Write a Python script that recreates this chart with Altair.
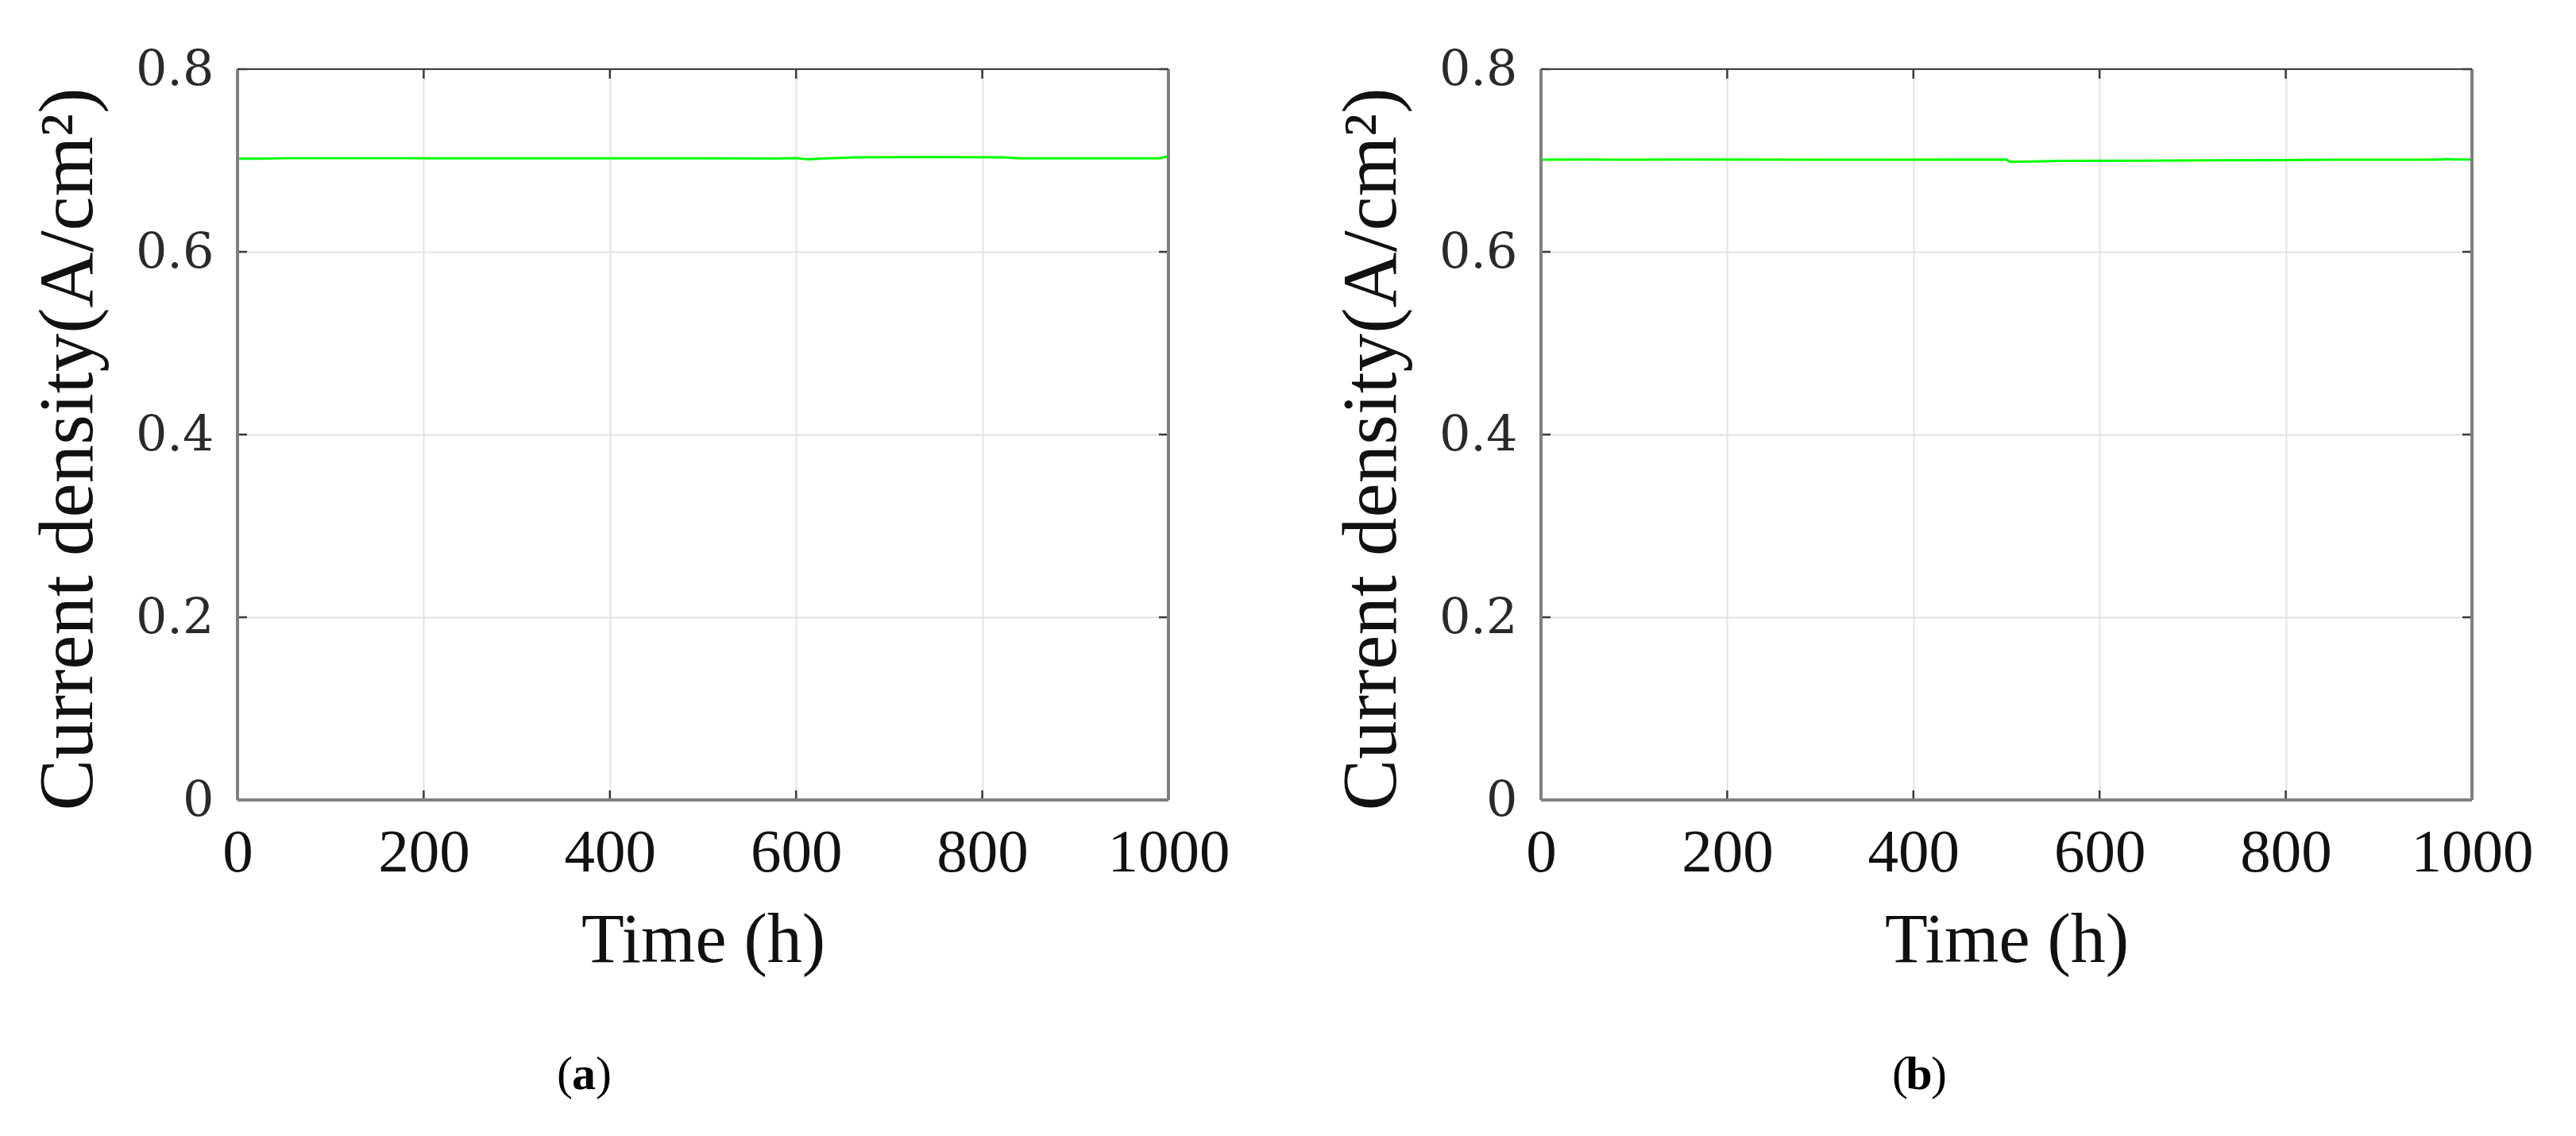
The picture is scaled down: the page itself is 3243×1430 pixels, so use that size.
import altair as alt
import pandas as pd

# ---- data ----
hours_a = [0, 25, 55, 200, 400, 500, 580, 600, 613, 630, 664, 740, 822, 840, 900, 990, 1000]
current_a = [0.7020, 0.7020, 0.7025, 0.7025, 0.7025, 0.7025, 0.7022, 0.7025, 0.7012, 0.7022,
             0.7035, 0.7036, 0.7035, 0.7025, 0.7025, 0.7025, 0.7045]

hours_b = [0, 50, 100, 150, 370, 500, 504, 530, 557, 650, 800, 850, 970, 972, 980, 1000]
current_b = [0.7008, 0.7010, 0.7008, 0.7010, 0.7008, 0.7010, 0.6985, 0.6990, 0.6995, 0.6998,
             0.7004, 0.7008, 0.7010, 0.7018, 0.7010, 0.7010]

x_ticks = [0, 200, 400, 600, 800, 1000]
y_ticks = [0, 0.2, 0.4, 0.6, 0.8]
panel_letters = ["a", "b"]

W, H = 1172, 920
SERIF = "Liberation Serif"
TICK = 12

xscale = alt.Scale(domain=[0, 1000], nice=False, zero=False)
yscale = alt.Scale(domain=[0, 0.8], nice=False)

xaxis = alt.Axis(values=x_ticks, title="Time (h)", grid=True, gridColor="#e3e3e3",
                 gridWidth=2, ticks=False, domain=False, labelFont=SERIF,
                 labelFontSize=77, labelColor="#111", labelPadding=89,
                 labelBaseline="alphabetic", labelFlush=False,
                 labelExpr="format(datum.value, 'd')",
                 titleFont=SERIF, titleFontSize=88, titleFontWeight="normal",
                 titleColor="#111", titleBaseline="alphabetic",
                 titleY=203, titleX=W / 2)
yaxis = alt.Axis(values=y_ticks, title="Current density(A/cm²)", grid=True,
                 gridColor="#e3e3e3", gridWidth=2, ticks=False, domain=False,
                 labelFont="DejaVu Serif", labelFontSize=62, labelColor="#2a2a2a",
                 labelPadding=30, labelFlush=False,
                 labelExpr="datum.value == 0 ? '0' : format(datum.value, '.1f')",
                 titleFont=SERIF, titleFontSize=97, titleFontWeight="normal",
                 titleColor="#111", titleBaseline="alphabetic", titleAngle=270,
                 titleX=-184, titleY=478)


def panel(hours, current, letter, label_shift):
    df = pd.DataFrame({"hours": hours, "current": current})
    line = alt.Chart(df).mark_line(color="#00ff00", strokeWidth=3).encode(
        x=alt.X("hours:Q", scale=xscale, axis=xaxis),
        y=alt.Y("current:Q", scale=yscale, axis=yaxis),
    )
    tx = pd.DataFrame({"hours": x_ticks})
    ty = pd.DataFrame({"current": y_ticks})
    rule_style = dict(color="#3a3a3a", strokeWidth=2.5)
    bottom = alt.Chart(tx).mark_rule(**rule_style).encode(
        x=alt.X("hours:Q", scale=xscale, axis=xaxis), y=alt.value(H), y2=alt.value(H - TICK))
    top = alt.Chart(tx).mark_rule(**rule_style).encode(
        x=alt.X("hours:Q", scale=xscale, axis=xaxis), y=alt.value(0), y2=alt.value(TICK))
    left = alt.Chart(ty).mark_rule(**rule_style).encode(
        y=alt.Y("current:Q", scale=yscale, axis=yaxis), x=alt.value(0), x2=alt.value(TICK))
    right = alt.Chart(ty).mark_rule(**rule_style).encode(
        y=alt.Y("current:Q", scale=yscale, axis=yaxis), x=alt.value(W), x2=alt.value(W - TICK))
    topline = alt.Chart(tx).mark_rule(color="#3c3c3c", strokeWidth=2).encode(
        x=alt.value(0), x2=alt.value(W), y=alt.value(0))
    frame_l = alt.Chart(tx).mark_rule(color="#808080", strokeWidth=4).encode(
        x=alt.value(0), y=alt.value(0), y2=alt.value(H))
    frame_r = alt.Chart(tx).mark_rule(color="#808080", strokeWidth=4).encode(
        x=alt.value(W), y=alt.value(0), y2=alt.value(H))
    frame_b = alt.Chart(tx).mark_rule(color="#808080", strokeWidth=4).encode(
        x=alt.value(0), x2=alt.value(W), y=alt.value(H))

    cx = W / 2 + label_shift
    cy = H + 364
    lab = pd.DataFrame({"o": ["("], "l": [letter], "c": [")"]})
    lp = alt.Chart(lab).mark_text(font=SERIF, fontSize=60, align="right", baseline="alphabetic",
                                  color="black").encode(text="o:N", x=alt.value(cx - 14), y=alt.value(cy))
    ll = alt.Chart(lab).mark_text(font=SERIF, fontSize=60, fontWeight="bold", align="center",
                                  baseline="alphabetic", color="black").encode(
        text="l:N", x=alt.value(cx), y=alt.value(cy))
    lr = alt.Chart(lab).mark_text(font=SERIF, fontSize=60, align="left", baseline="alphabetic",
                                  color="black").encode(text="c:N", x=alt.value(cx + 15), y=alt.value(cy))

    return alt.layer(line, bottom, top, left, right, frame_l, frame_r, frame_b, topline,
                     lp, ll, lr).properties(width=W, height=H)


chart = alt.hconcat(
    panel(hours_a, current_a, panel_letters[0], -150),
    panel(hours_b, current_b, panel_letters[1], -110),
    spacing=128,
).properties(
    padding={"left": 28, "top": 47, "right": 0, "bottom": 0}
).configure_view(strokeWidth=0).configure(background="white")

chart.save("out.html", embed_options={"renderer": "svg", "actions": False})
